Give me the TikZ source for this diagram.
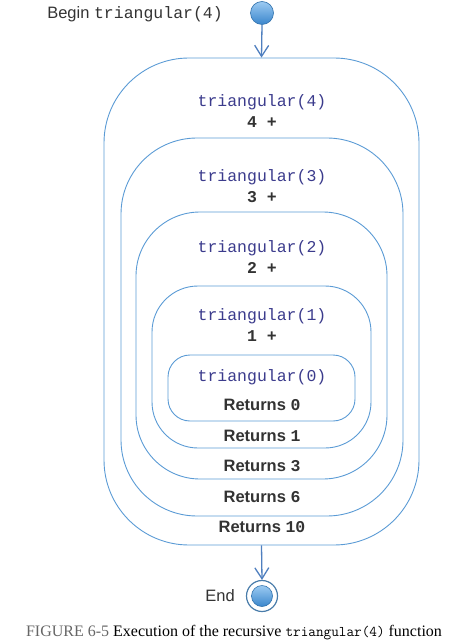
\documentclass[tikz,border=0pt]{standalone}
\usepackage{fontspec}
\usetikzlibrary{arrows.meta}
\newfontfamily\sansf{Liberation Sans}
\newfontfamily\monof{Liberation Mono}
\newfontfamily\seriff{Liberation Serif}
\definecolor{boxline}{HTML}{5B9BD5}
\definecolor{arrowc}{HTML}{4F7FBF}
\definecolor{callc}{HTML}{3B3B8C}
\definecolor{txtc}{HTML}{333333}
\definecolor{ballt}{HTML}{9CCBF2}
\definecolor{ballb}{HTML}{3A86CC}
\tikzset{
  frame/.style={draw=boxline, line width=0.9pt, rectangle, inner sep=0pt},
  calltxt/.style={font=\monof\fontsize{16.5}{19}\selectfont, text=callc, inner sep=0pt},
  addtxt/.style={font=\monof\bfseries\fontsize{16.5}{19}\selectfont, text=txtc, inner sep=0pt},
  rettxt/.style={font=\sansf\bfseries\fontsize{16.5}{19}\selectfont, text=txtc, inner sep=0pt},
  flow/.style={draw=arrowc, line width=1.3pt, -{Straight Barb[length=11pt,width=14pt,line width=1.3pt]}},
  ball/.style={circle, draw=ballb!85!black, line width=0.6pt, top color=ballt, bottom color=ballb, inner sep=0pt, minimum size=23pt}
}
\begin{document}
\begin{tikzpicture}[x=1pt,y=-1pt]
\useasboundingbox (0,0) rectangle (460,644);
% frames
\node[frame, rounded corners=85pt, minimum width=315pt, minimum height=487pt] (f4) at (261.5,301.5) {};
\node[frame, rounded corners=76pt, minimum width=282pt, minimum height=378pt] (f3) at (262,327) {};
\node[frame, rounded corners=64pt, minimum width=251pt, minimum height=267pt] (f2) at (261.5,345.5) {};
\node[frame, rounded corners=46pt, minimum width=219pt, minimum height=162pt] (f1) at (261.5,367) {};
\node[frame, rounded corners=22pt, minimum width=187pt, minimum height=66pt] (f0) at (261.5,388) {};
% texts
\node[calltxt] (c4) at (262,102) {triangular(4)};
\node[addtxt] (a4) at (262,122) {4 +};
\node[calltxt] (c3) at (262,177) {triangular(3)};
\node[addtxt] (a3) at (262,197) {3 +};
\node[calltxt] (c2) at (262,248) {triangular(2)};
\node[addtxt] (a2) at (262,268) {2 +};
\node[calltxt] (c1) at (262,316) {triangular(1)};
\node[addtxt] (a1) at (262,336) {1 +};
\node[calltxt] (c0) at (262,377) {triangular(0)};
\node[rettxt] (r0) at (262,405) {Returns {\monof\bfseries 0}};
\node[rettxt] (r1) at (262,436) {Returns {\monof\bfseries 1}};
\node[rettxt] (r3) at (262,466) {Returns {\monof\bfseries 3}};
\node[rettxt] (r6) at (262,497) {Returns {\monof\bfseries 6}};
\node[rettxt] (r10) at (262,527) {Returns {\monof\bfseries 10}};
% start
\node[ball] (start) at (262,13) {};
\node[anchor=east, inner sep=0pt, font=\sansf\fontsize{16.5}{19}\selectfont, text=txtc] (begin) at (223,14) {Begin {\monof triangular(4)}};
% end
\node[circle, draw=boxline!80!black, line width=1.2pt, minimum size=31pt, inner sep=0pt] (endring) at (262,596) {};
\node[ball, minimum size=21pt] (enddot) at (262,596) {};
\node[anchor=east, inner sep=0pt, font=\sansf\fontsize{16.5}{19}\selectfont, text=txtc] (endlbl) at (235,596) {End};
% arrows
\draw[flow] (start.south) -- (f4.north);
\draw[flow] (f4.south) -- (endring.north);
% caption
\node[anchor=center, inner sep=0pt, font=\seriff\fontsize{16}{18}\selectfont] (cap) at (234,633) {{\color{black!60}FIGURE 6-5} Execution of the recursive {\ttfamily\fontsize{14.8}{16}\selectfont triangular(4)} function};
\end{tikzpicture}
\end{document}
